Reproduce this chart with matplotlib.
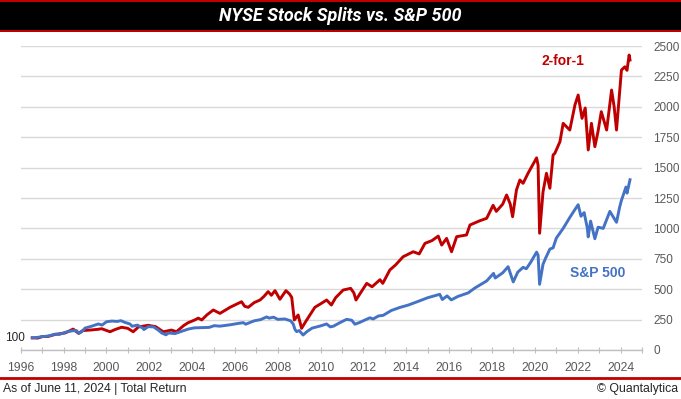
import matplotlib
matplotlib.use("Agg")
import matplotlib.pyplot as plt
from matplotlib.patches import Rectangle
from matplotlib.lines import Line2D

# S&P 500 total return, indexed to 100 (decimal year, value)
spx_years = [1996.54, 1996.8, 1997.0, 1997.29, 1997.6, 1997.8, 1998.07, 1998.4, 1998.6, 1998.72,
             1998.85, 1999.0, 1999.3, 1999.62, 1999.8, 2000.0, 2000.25, 2000.5, 2000.68, 2000.85,
             2001.1, 2001.2, 2001.45, 2001.7, 2001.75, 2001.95, 2002.2, 2002.45, 2002.58, 2002.78,
             2002.9, 2003.2, 2003.45, 2003.82, 2004.1, 2004.45, 2004.8, 2005.03, 2005.3, 2005.8,
             2006.2, 2006.39, 2006.5, 2006.9, 2007.2, 2007.48, 2007.6, 2007.8, 2008.0, 2008.33,
             2008.6, 2008.72, 2008.8, 2008.88, 2009.0, 2009.18, 2009.35, 2009.6, 2009.97, 2010.28,
             2010.45, 2010.6, 2010.9, 2011.21, 2011.45, 2011.6, 2011.8, 2012.3, 2012.45, 2012.7,
             2012.92, 2013.3, 2013.7, 2014.1, 2014.63, 2015.0, 2015.4, 2015.56, 2015.68, 2015.9,
             2016.1, 2016.4, 2016.89, 2017.2, 2017.75, 2018.07, 2018.15, 2018.5, 2018.75, 2018.99,
             2019.2, 2019.45, 2019.6, 2019.8, 2020.08, 2020.15, 2020.22, 2020.38, 2020.5, 2020.7,
             2020.85, 2021.0, 2021.32, 2021.63, 2021.85, 2022.02, 2022.15, 2022.3, 2022.45, 2022.49,
             2022.6, 2022.8, 2022.95, 2023.19, 2023.5, 2023.81, 2023.95, 2024.04, 2024.25, 2024.3,
             2024.44]
spx_values = [100, 104, 110, 115, 130, 128, 145, 158, 160, 137,
              150, 180, 195, 214, 205, 232, 238, 235, 241, 228,
              214, 195, 205, 180, 168, 192, 190, 160, 140, 125,
              140, 135, 150, 172, 182, 184, 186, 200, 196, 208,
              220, 225, 212, 240, 250, 272, 262, 270, 252, 255,
              240, 214, 170, 151, 160, 123, 150, 180, 197, 214,
              190, 196, 225, 252, 245, 212, 225, 265, 255, 280,
              285, 325, 350, 370, 405, 430, 450, 458, 415, 445,
              412, 440, 470, 510, 568, 630, 592, 635, 685, 560,
              640, 680, 668, 720, 805, 780, 540, 705, 755, 830,
              840, 920, 1000, 1090, 1150, 1195, 1100, 1130, 1000, 930,
              1060, 915, 1010, 1000, 1140, 1050, 1170, 1230, 1340, 1290,
              1400]

# NYSE 2-for-1 stock splits, indexed to 100
split_years = [1996.54, 1996.8, 1997.0, 1997.29, 1997.6, 1998.07, 1998.45, 1998.7, 1998.9, 1999.31,
               1999.6, 1999.78, 2000.17, 2000.4, 2000.71, 2001.0, 2001.25, 2001.5, 2001.95, 2002.3,
               2002.65, 2002.8, 2003.04, 2003.27, 2003.6, 2003.82, 2004.1, 2004.29, 2004.45, 2004.7,
               2004.99, 2005.3, 2005.77, 2006.31, 2006.45, 2006.62, 2006.9, 2007.17, 2007.35, 2007.55,
               2007.7, 2007.87, 2008.1, 2008.38, 2008.55, 2008.65, 2008.77, 2008.95, 2009.11, 2009.35,
               2009.73, 2010.0, 2010.28, 2010.5, 2010.7, 2011.05, 2011.4, 2011.55, 2011.65, 2011.9,
               2012.15, 2012.4, 2012.77, 2012.9, 2013.23, 2013.5, 2013.85, 2014.32, 2014.6, 2014.87,
               2015.2, 2015.49, 2015.65, 2015.88, 2016.11, 2016.35, 2016.81, 2016.97, 2017.43, 2017.75,
               2018.05, 2018.2, 2018.5, 2018.68, 2018.85, 2018.96, 2019.14, 2019.3, 2019.45, 2019.68,
               2020.08, 2020.15, 2020.22, 2020.38, 2020.54, 2020.7, 2020.85, 2020.93, 2021.17, 2021.32,
               2021.63, 2021.87, 2022.02, 2022.2, 2022.35, 2022.49, 2022.64, 2022.8, 2022.95, 2023.1,
               2023.35, 2023.58, 2023.7, 2023.81, 2024.04, 2024.2, 2024.3, 2024.4, 2024.44]
split_values = [100, 98, 110, 112, 128, 140, 172, 137, 160, 165,
                170, 175, 150, 168, 187, 178, 150, 190, 203, 192,
                150, 155, 164, 150, 200, 225, 245, 262, 247, 290,
                329, 301, 351, 397, 360, 351, 390, 411, 440, 480,
                450, 488, 417, 488, 460, 433, 247, 288, 178, 247,
                351, 380, 411, 370, 430, 493, 507, 470, 411, 480,
                548, 520, 578, 548, 658, 700, 767, 808, 790, 877,
                900, 937, 863, 918, 808, 932, 946, 1028, 1063, 1083,
                1190, 1140, 1200, 1275, 1200, 1096, 1316, 1398, 1371, 1453,
                1580, 1520, 960, 1300, 1453, 1330, 1604, 1617, 1713, 1864,
                1809, 2015, 2097, 1905, 1990, 1645, 1864, 1672, 1800, 1960,
                1809, 2138, 2000, 1809, 2302, 2329, 2300, 2426, 2385]

x_ticks = list(range(1996, 2026))
x_labels = [str(y) if y % 2 == 0 else "" for y in x_ticks]
y_ticks = [0, 250, 500, 750, 1000, 1250, 1500, 1750, 2000, 2250, 2500]

RED = "#C00000"
BLUE = "#4472C4"
GRID = "#D9D9D9"
TXT = "#595959"

plt.rcParams["font.family"] = ["Liberation Sans", "DejaVu Sans"]

fig = plt.figure(figsize=(6.81, 3.99), dpi=100)

# title banner
fig.patches.append(Rectangle((0, 1 - 32 / 399), 1, 32 / 399, transform=fig.transFigure,
                             facecolor=RED, edgecolor="none", zorder=0))
fig.patches.append(Rectangle((0, 1 - 30 / 399), 1, 28 / 399, transform=fig.transFigure,
                             facecolor="black", edgecolor="none", zorder=1))
fig.text(0.5, 1 - 16 / 399, "NYSE Stock Splits vs. S&P 500", color="white", fontsize=13,
         fontweight="bold", fontstyle="italic", family=["Roboto", "DejaVu Sans"],
         ha="center", va="center")

# footer
fig.add_artist(Line2D([0, 1], [1 - 378 / 399] * 2, transform=fig.transFigure,
                      color=RED, linewidth=2))
fig.text(3 / 681, 1 - 389 / 399, "As of June 11, 2024 | Total Return", fontsize=8.8,
         color="#262626", ha="left", va="center")
fig.text(678 / 681, 1 - 389 / 399, "\u00a9 Quantalytica", fontsize=8.8,
         color="#262626", ha="right", va="center")

ax = fig.add_axes([20.7 / 681, 49 / 399, (642 - 20.7) / 681, 304 / 399])
ax.plot(split_years, split_values, color=RED, linewidth=2.1, zorder=3)
ax.plot(spx_years, spx_values, color=BLUE, linewidth=2.1, zorder=4)

ax.set_xlim(1996, 2025)
ax.set_ylim(0, 2500)
ax.set_xticks(x_ticks)
ax.set_xticklabels(x_labels)
ax.set_yticks(y_ticks)
ax.yaxis.tick_right()
ax.tick_params(axis="y", length=0, pad=8, labelsize=8.5, labelcolor=TXT)
ax.tick_params(axis="x", length=5, direction="inout", color="#BFBFBF", pad=6,
               labelsize=8.8, labelcolor=TXT)
ax.grid(axis="y", color=GRID, linewidth=1)
ax.set_axisbelow(True)
for side in ["top", "left", "right"]:
    ax.spines[side].set_visible(False)
ax.spines["bottom"].set_color("#BFBFBF")
ax.spines["bottom"].set_linewidth(1)

# labels
ax.annotate("100", xy=(spx_years[0], spx_values[0]), xytext=(-5, 0),
            textcoords="offset points", ha="right", va="center", fontsize=8.5, color="#262626")
ax.text(2021.3, 2377, "2-for-1", color=RED, fontsize=10, fontweight="bold",
        ha="center", va="center")
ax.text(2022.94, 633, "S&P 500", color=BLUE, fontsize=10, fontweight="bold",
        ha="center", va="center")

fig.savefig("out.png", dpi=100)
